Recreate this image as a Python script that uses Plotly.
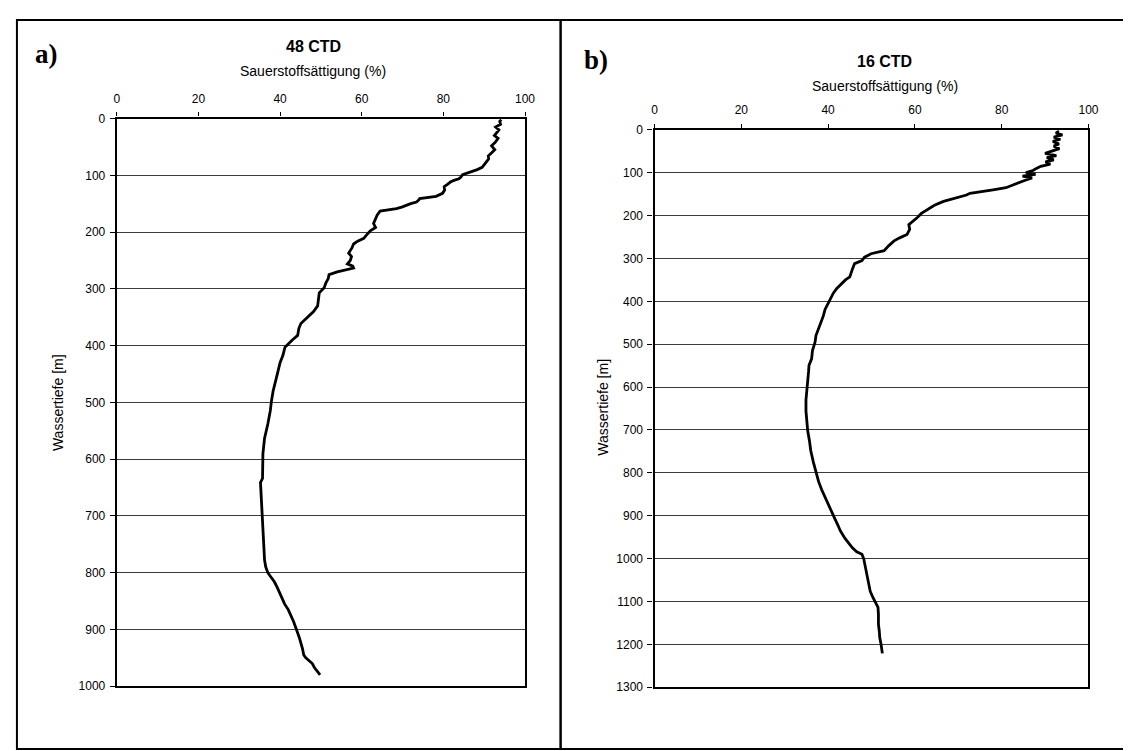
import plotly.graph_objects as go

W, H = 1131, 751

# ---------------- data ----------------
depth_a = [2, 5, 10, 15, 20, 25, 30, 35, 42, 48, 55, 60, 66, 71, 76, 80, 86, 90, 93, 96, 99,
           103, 106, 109, 111.5, 116, 120, 126, 131.7, 137, 139, 141, 144, 147, 150, 153, 156,
           158.7, 162, 163, 170, 179, 185, 192, 198, 205, 211, 216, 221, 228, 237, 243, 250,
           256, 260, 263.5, 267, 270, 275, 282, 290, 298, 307, 318, 330, 340, 348, 355, 361,
           370, 382, 390, 397, 403, 417, 430, 445, 462, 480, 497, 515, 538, 563, 590, 610,
           634, 641, 673, 706, 738, 760, 778, 790, 800, 808, 816, 826, 836, 846, 855, 865,
           875, 886, 898, 914, 934, 945, 950, 955, 960, 967, 973, 980]
sat_a = [94.2, 93.8, 94.0, 92.8, 93.6, 93.1, 92.5, 93.4, 92.7, 91.8, 92.6, 91.9, 91.0, 91.1,
         90.6, 90.3, 89.5, 88.3, 87.1, 85.8, 84.7, 84.3, 83.8, 82.6, 81.8, 81.0, 80.2, 80.3,
         79.8, 78.2, 76.0, 74.2, 73.9, 73.4, 72.0, 71.0, 69.8, 68.5, 66.1, 64.5, 63.8, 63.3,
         62.9, 63.4, 62.1, 61.2, 60.5, 59.0, 58.0, 57.6, 56.8, 57.5, 57.2, 56.5, 57.8, 58.0,
         55.6, 54.0, 52.0, 51.8, 51.2, 50.8, 49.6, 49.4, 49.2, 48.2, 47.1, 46.0, 45.1, 44.6,
         44.3, 43.0, 41.9, 41.2, 40.7, 40.0, 39.5, 38.9, 38.3, 37.9, 37.6, 37.0, 36.2, 35.8,
         35.7, 35.7, 35.2, 35.4, 35.6, 35.8, 36.0, 36.2, 36.5, 37.0, 37.8, 38.6, 39.3, 39.9,
         40.5, 41.1, 42.0, 42.7, 43.3, 43.9, 44.7, 45.5, 45.8, 46.3, 47.2, 47.9, 48.4, 49.1,
         49.8]

depth_b = [3, 8, 12, 17, 22, 27, 33, 38, 44, 50, 55, 60, 65, 70, 75, 80, 85, 90, 95, 100, 104,
           108, 112, 117, 121, 125, 130, 135, 140, 144, 148, 152, 160, 167, 176, 186, 195, 205,
           213, 221, 232, 244, 252, 259, 270, 282, 289, 297, 305, 312, 325, 343, 350, 358, 370,
           381, 392, 404, 419, 434, 450, 465, 480, 495, 515, 534, 549, 564, 585, 610, 630, 656,
           686, 702, 725, 748, 775, 801, 820, 839, 860, 877, 892, 908, 923, 935, 953, 965, 975,
           984, 990, 1000, 1020, 1040, 1060, 1076, 1090, 1103, 1114, 1130, 1153, 1170, 1184,
           1200, 1211, 1221]
sat_b = [93.2, 92.5, 94.0, 92.0, 93.5, 91.8, 93.2, 92.0, 93.3, 91.2, 90.0, 92.6, 90.4, 92.0,
         90.1, 91.2, 89.0, 88.0, 87.2, 85.6, 87.8, 84.8, 87.0, 85.6, 84.5, 83.3, 82.0, 81.0,
         78.0, 75.7, 72.7, 71.9, 69.0, 66.6, 64.5, 62.8, 61.5, 60.5, 59.5, 58.6, 58.8, 58.2,
         56.5, 55.2, 54.0, 52.9, 49.9, 48.4, 47.8, 46.1, 45.6, 45.0, 44.0, 43.1, 42.0, 41.2,
         40.6, 40.0, 39.3, 38.9, 38.3, 37.7, 37.2, 37.0, 36.4, 36.2, 35.6, 35.5, 35.3, 35.0,
         34.9, 34.9, 35.1, 35.3, 35.7, 36.0, 36.6, 37.2, 37.8, 38.5, 39.4, 40.2, 40.8, 41.6,
         42.3, 42.8, 43.9, 44.8, 45.6, 46.6, 47.8, 48.2, 48.6, 48.9, 49.3, 49.7, 50.3, 50.9,
         51.5, 51.6, 51.6, 51.8, 51.9, 52.2, 52.4, 52.5]

x_ticks = [0, 20, 40, 60, 80, 100]
titles = ["48 CTD", "16 CTD"]
panel_labels = ["a)", "b)"]
x_title = "Sauerstoffsättigung (%)"
y_title = "Wassertiefe [m]"

# ---------------- layout helpers ----------------
def fx(px):
    return px / W

def fy(py):
    return 1 - py / H

FONT = "Liberation Sans, Arial, sans-serif"

fig = go.Figure()
fig.add_trace(go.Scatter(x=sat_a, y=depth_a, mode="lines",
                         line=dict(color="black", width=2.8), xaxis="x", yaxis="y",
                         showlegend=False))
fig.add_trace(go.Scatter(x=sat_b, y=depth_b, mode="lines",
                         line=dict(color="black", width=2.8), xaxis="x2", yaxis="y2",
                         showlegend=False))

common_x = dict(range=[0, 100], tickvals=x_ticks, side="top", showgrid=False, zeroline=False,
                showline=True, linewidth=2.2, linecolor="black", mirror=True,
                ticks="outside", ticklen=4, tickcolor="black", tickwidth=1,
                ticklabelstandoff=5,
                tickfont=dict(family=FONT, size=12, color="black"), fixedrange=True)
common_y = dict(autorange=False, dtick=100, showgrid=True, gridcolor="#3c3c3c", gridwidth=1,
                zeroline=False, showline=True, linewidth=2.2, linecolor="black", mirror=True,
                ticks="outside", ticklen=5, tickcolor="black", tickwidth=1,
                ticklabelstandoff=2,
                tickfont=dict(family=FONT, size=12, color="black"), fixedrange=True)

fig.update_layout(
    width=W, height=H, margin=dict(l=0, r=0, t=0, b=0),
    paper_bgcolor="white", plot_bgcolor="white",
    xaxis=dict(common_x, domain=[fx(107), fx(520)], anchor="y"),
    yaxis=dict(common_y, domain=[fy(684), fy(105.5)], range=[1000, 0], anchor="x"),
    xaxis2=dict(common_x, domain=[fx(651), fx(1090)], anchor="y2"),
    yaxis2=dict(common_y, domain=[fy(685), fy(117)], range=[1300, 0], anchor="x2"),
)

# panel frames
shapes = []
for (x0, x1) in [(6, 556), (556, 1128)]:
    shapes.append(dict(type="rect", xref="paper", yref="paper",
                       x0=fx(x0), x1=fx(x1), y0=fy(748), y1=fy(5),
                       line=dict(color="black", width=2), fillcolor="rgba(0,0,0,0)"))
fig.update_layout(shapes=shapes)

ann = []
# titles and x-axis titles
for cx, ty, sy, t in [(306, 32, 57, titles[0]), (884, 47, 72, titles[1])]:
    ann.append(dict(text="<b>%s</b>" % t, x=fx(cx), y=fy(ty), xref="paper", yref="paper",
                    showarrow=False, font=dict(family=FONT, size=16, color="black"),
                    xanchor="center", yanchor="middle"))
    ann.append(dict(text=x_title, x=fx(cx), y=fy(sy), xref="paper", yref="paper",
                    showarrow=False, font=dict(family=FONT, size=14, color="black"),
                    xanchor="center", yanchor="middle"))
# panel labels
for lx, ly, t in [(22, 40, panel_labels[0]), (578, 46, panel_labels[1])]:
    ann.append(dict(text="<b>%s</b>" % t, x=fx(lx), y=fy(ly), xref="paper", yref="paper",
                    showarrow=False, font=dict(family="Liberation Serif, Times New Roman, serif",
                                               size=27, color="black"),
                    xanchor="left", yanchor="middle"))
# y-axis titles
for yx, yy in [(47, 395), (598, 400)]:
    ann.append(dict(text=y_title, x=fx(yx), y=fy(yy), xref="paper", yref="paper",
                    showarrow=False, textangle=-90,
                    font=dict(family=FONT, size=14, color="black"),
                    xanchor="center", yanchor="middle"))
fig.update_layout(annotations=ann)

fig.write_html("out.html")
